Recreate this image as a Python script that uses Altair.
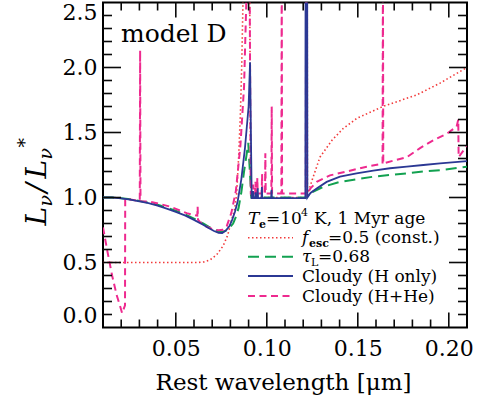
import altair as alt
import pandas as pd

# ---------------- data ----------------
blue_x = [0.010, 0.015, 0.020, 0.025, 0.030, 0.035, 0.040, 0.045, 0.050, 0.055,
          0.060, 0.065, 0.068, 0.071, 0.0735, 0.0755, 0.0775, 0.0795, 0.081, 0.0825,
          0.084, 0.086, 0.088, 0.0900, 0.0908, 0.0917,
          0.0922, 0.0924, 0.0926, 0.0936, 0.0938, 0.0940, 0.0948, 0.0950, 0.0952,
          0.0971, 0.0973, 0.0975, 0.1024, 0.1026, 0.1028, 0.1212, 0.1213, 0.1222, 0.1223,
          0.1240, 0.1274, 0.1329, 0.1402, 0.1493, 0.1585, 0.1677, 0.1769, 0.1860, 0.1952, 0.2100]
blue_y = [1.000, 1.000, 0.993, 0.983, 0.970, 0.957, 0.938, 0.915, 0.890, 0.862,
          0.828, 0.790, 0.765, 0.742, 0.728, 0.727, 0.745, 0.780, 0.830, 0.890,
          0.970, 1.140, 1.380, 1.700, 2.040, 0.995,
          0.995, 1.050, 0.995, 0.995, 1.040, 0.995, 0.995, 1.070, 0.995,
          0.995, 1.080, 0.995, 0.995, 1.060, 0.995, 0.995, 2.800, 2.800, 1.000,
          1.035, 1.070, 1.120, 1.160, 1.186, 1.206, 1.225, 1.237, 1.250, 1.263, 1.280]

green_x = [0.010, 0.015, 0.020, 0.025, 0.030, 0.035, 0.040, 0.045, 0.050, 0.055,
           0.060, 0.065, 0.068, 0.071, 0.0735, 0.0755, 0.0775, 0.0795, 0.0815, 0.0830,
           0.0845, 0.0860, 0.0875, 0.0890, 0.0898, 0.0915, 0.1216, 0.1240, 0.1311, 0.1402,
           0.1493, 0.1585, 0.1677, 0.1769, 0.1860, 0.1952, 0.2100]
green_y = [1.000, 1.000, 0.995, 0.986, 0.974, 0.961, 0.944, 0.922, 0.898, 0.871,
           0.838, 0.800, 0.776, 0.754, 0.739, 0.735, 0.745, 0.765, 0.800, 0.850,
           0.920, 1.040, 1.200, 1.340, 1.420, 1.000, 1.000, 1.035, 1.083, 1.120,
           1.140, 1.160, 1.173, 1.186, 1.200, 1.210, 1.237]

red_x = [0.010, 0.062, 0.0655, 0.0688, 0.0725, 0.0761, 0.0785, 0.0807, 0.0822, 0.0834,
         0.0845, 0.0855, 0.0862, 0.0869, 0.0875, 0.0905, 0.0912, 0.1214, 0.1215, 0.1222,
         0.1223, 0.1248, 0.1292, 0.1358, 0.1419, 0.1496, 0.1638, 0.1825, 0.1952, 0.2100]
red_y = [0.500, 0.500, 0.505, 0.520, 0.560, 0.630, 0.710, 0.830, 0.900, 1.020,
         1.300, 1.650, 2.000, 2.500, 2.800, 2.800, 1.000, 1.000, 2.800, 2.800,
         1.020, 1.130, 1.310, 1.440, 1.530, 1.610, 1.700, 1.790, 1.880, 2.000]

pink_x = [0.010, 0.0125, 0.015, 0.0175, 0.0195, 0.0205, 0.0221, 0.0222, 0.025, 0.0290,
          0.0302, 0.0304, 0.0306, 0.0358, 0.0413, 0.0468, 0.0523, 0.0560, 0.0596, 0.0618,
          0.0620, 0.0622, 0.0633, 0.0670, 0.0705, 0.0735, 0.0760, 0.0780, 0.0805, 0.0830,
          0.0855, 0.0875, 0.0893, 0.0905, 0.0912,
          0.0923, 0.0925, 0.0927, 0.0936, 0.0938, 0.0940, 0.0946, 0.0948, 0.0950,
          0.0972, 0.0974, 0.0976, 0.0990, 0.0992, 0.0994, 0.1025, 0.1027, 0.1029,
          0.1080, 0.1082, 0.1084, 0.1214, 0.1216, 0.1218,
          0.1240, 0.1274, 0.1347, 0.1439, 0.1549, 0.1636, 0.1638, 0.1640, 0.1769, 0.1842,
          0.1915, 0.1989, 0.2043, 0.2052, 0.2054, 0.2100]
pink_y = [0.770, 0.580, 0.400, 0.250, 0.160, 0.110, 0.170, 0.990, 0.985, 0.976,
          0.975, 2.130, 0.972, 0.967, 0.950, 0.930, 0.900, 0.880, 0.865, 0.860,
          0.930, 0.830, 0.810, 0.775, 0.755, 0.748, 0.752, 0.780, 0.880, 1.050,
          1.400, 1.850, 2.800, 2.800, 1.030,
          1.030, 1.100, 1.030, 1.030, 1.120, 1.030, 1.030, 1.150, 1.030,
          1.030, 1.180, 1.030, 1.030, 1.340, 1.030, 1.030, 1.700, 1.030,
          1.030, 2.800, 1.030, 1.030, 2.800, 1.020,
          1.070, 1.120, 1.170, 1.200, 1.237, 1.260, 2.800, 1.263, 1.310, 1.380,
          1.440, 1.490, 1.545, 1.600, 1.310, 1.400]

x_labels = [0.05, 0.10, 0.15, 0.20]
x_major_ticks = [0.05, 0.10, 0.15, 0.20]
x_minor_ticks = [0.02, 0.03, 0.04, 0.06, 0.07, 0.08, 0.09, 0.11, 0.12, 0.13,
                 0.14, 0.16, 0.17, 0.18, 0.19]
y_labels = [0.0, 0.5, 1.0, 1.5, 2.0, 2.5]
y_major_ticks = [0.5, 1.0, 1.5, 2.0]
y_minor_ticks = [0.1, 0.2, 0.3, 0.4, 0.6, 0.7, 0.8, 0.9, 1.1, 1.2, 1.3, 1.4,
                 1.6, 1.7, 1.8, 1.9, 2.1, 2.2, 2.3, 2.4]

# ---------------- styling ----------------
W, H = 364, 325
X0, X1 = 0.01, 0.21
Y0, Y1 = 0.0, 2.5
PX_PER_X = W / (X1 - X0)
PX_PER_Y = H / (Y1 - Y0)
FONT = "DejaVu Serif"
RED, GREEN, BLUE, PINK = "#F23A3A", "#12A150", "#2B3894", "#EE2A8F"
INK = "#0a0a0a"

X_SCALE = alt.Scale(domain=[X0, X1], nice=False, zero=False)
Y_SCALE = alt.Scale(domain=[Y0, Y1], nice=False, zero=False)

x_axis = alt.Axis(values=x_labels, format=".2f", labelFont=FONT, labelFontSize=22,
                  labelColor="black", labelPadding=11, ticks=False, domain=False,
                  grid=False, title="Rest wavelength [μm]", titleFont=FONT,
                  titleFontSize=23, titleFontWeight="normal", titleColor="black",
                  titleX=180, titleY=62, titleBaseline="alphabetic")
y_axis = alt.Axis(values=y_labels, format=".1f", labelFont=FONT, labelFontSize=22,
                  labelColor="black", labelPadding=6, ticks=False, domain=False,
                  grid=False, labelFlush=True, title="")


def line_layer(xs, ys, color, width, dash=None):
    df = pd.DataFrame({"wl": xs, "ratio": ys, "i": list(range(len(xs)))})
    kw = dict(color=color, strokeWidth=width, clip=True)
    if dash is not None:
        kw["strokeDash"] = dash
    return alt.Chart(df).mark_line(**kw).encode(
        x=alt.X("wl:Q", scale=X_SCALE, axis=x_axis),
        y=alt.Y("ratio:Q", scale=Y_SCALE, axis=y_axis),
        order="i:Q")


def tick_rows(xvals, yvals, xlen_px, ylen_px, start):
    rows = []
    k = start
    lx = ylen_px / PX_PER_Y
    ly = xlen_px / PX_PER_X
    for v in xvals:
        for a, b in ((Y0, Y0 + lx), (Y1, Y1 - lx)):
            rows.append({"tx": v, "ty": a, "tid": k})
            rows.append({"tx": v, "ty": b, "tid": k})
            k += 1
    for v in yvals:
        for a, b in ((X0, X0 + ly), (X1, X1 - ly)):
            rows.append({"tx": a, "ty": v, "tid": k})
            rows.append({"tx": b, "ty": v, "tid": k})
            k += 1
    return rows, k


major_rows, n = tick_rows(x_major_ticks, y_major_ticks, 18, 15, 0)
minor_rows, _ = tick_rows(x_minor_ticks, y_minor_ticks, 9, 8, n)
tick_df = pd.DataFrame(major_rows + minor_rows)

ticks = alt.Chart(tick_df).mark_line(color=INK, strokeWidth=1.6).encode(
    x=alt.X("tx:Q", scale=X_SCALE, axis=x_axis),
    y=alt.Y("ty:Q", scale=Y_SCALE, axis=y_axis),
    detail="tid:N")


def text_layer(txt, x, y, size, style="normal", weight="normal", angle=0, color="black"):
    df = pd.DataFrame({"t": [txt]})
    kw = dict(font=FONT, fontSize=size, fontStyle=style, fontWeight=weight,
              align="left", baseline="alphabetic", color=color)
    if angle:
        kw["angle"] = angle
    return alt.Chart(df).mark_text(**kw).encode(
        text="t:N", x=alt.value(x), y=alt.value(y))


def legend_sample(y, color, width, dash=None):
    df = pd.DataFrame({"k": [0]})
    kw = dict(color=color, strokeWidth=width)
    if dash is not None:
        kw["strokeDash"] = dash
    return alt.Chart(df).mark_rule(**kw).encode(
        x=alt.value(145), x2=alt.value(190), y=alt.value(y))


RED_DASH = [1.5, 2.5]
GREEN_DASH = [11, 6]
PINK_DASH = [7, 4.5]

layers = [
    line_layer(red_x, red_y, RED, 1.6, RED_DASH),
    line_layer(green_x, green_y, GREEN, 2.0, GREEN_DASH),
    line_layer(pink_x, pink_y, PINK, 2.0, PINK_DASH),
    line_layer(blue_x, blue_y, BLUE, 1.8),
    ticks,
    text_layer("model D", 18, 39, 25),
    text_layer("T", 145, 221.8, 17, style="italic"),
    text_layer("e", 156, 225.5, 11, weight="bold"),
    text_layer("=10", 163, 221.8, 17),
    text_layer("4", 198, 213, 11),
    text_layer("K, 1 Myr age", 211, 221.8, 17),
    legend_sample(235.2, RED, 1.6, RED_DASH),
    text_layer("f", 199, 240.5, 17, style="italic"),
    text_layer("esc", 206, 244.5, 11, weight="bold"),
    text_layer("=0.5 (const.)", 225, 240.5, 17),
    legend_sample(254.2, GREEN, 2.0, GREEN_DASH),
    text_layer("τ", 199, 259.2, 17, style="italic"),
    text_layer("L", 208, 263, 11),
    text_layer("=0.68", 215, 259.2, 17),
    legend_sample(273.5, BLUE, 1.8),
    text_layer("Cloudy (H only)", 199, 279.2, 17),
    legend_sample(293.5, PINK, 2.0, PINK_DASH),
    text_layer("Cloudy (H+He)", 199, 299.2, 17),
    text_layer("L", -57, 223, 28, style="italic", angle=270),
    text_layer("ν", -51, 204, 19, style="italic", angle=270),
    text_layer("/", -57, 190, 28, style="italic", angle=270),
    text_layer("L", -57, 176, 28, style="italic", angle=270),
    text_layer("ν", -51, 157, 19, style="italic", angle=270),
    text_layer("*", -72, 145, 19, angle=270),
]

chart = alt.layer(*layers).properties(
    width=W, height=H,
    autosize=alt.AutoSizeParams(type="none"),
    padding={"left": 103, "top": 2.5, "right": 19, "bottom": 75.5},
    background="white",
).configure_view(stroke="black", strokeWidth=2)

chart.save("out.html", embed_options={"renderer": "svg", "actions": False})
